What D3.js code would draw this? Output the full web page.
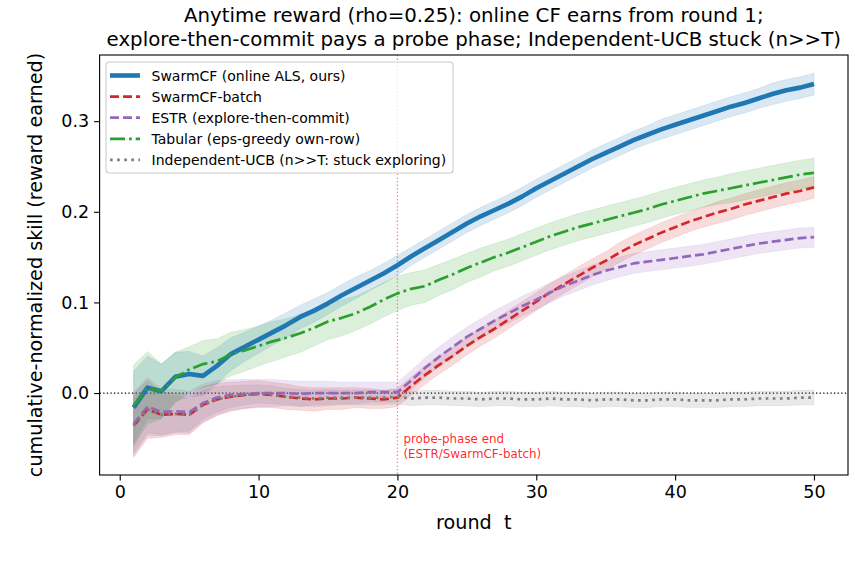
<!DOCTYPE html>
<html>
<head>
<meta charset="utf-8">
<script src="https://cdn.jsdelivr.net/npm/d3@7"></script>
<style>
  html, body { margin: 0; padding: 0; background: #fff; }
  svg { display: block; font-family: "DejaVu Sans", sans-serif; }
</style>
</head>
<body>
<svg id="chart" width="855" height="566"></svg>
<script>
// ---------------- data ----------------
const rounds = d3.range(1, 51);

const swarmCF = [-0.016, 0.006, 0.002, 0.018, 0.021, 0.019, 0.030, 0.043, 0.051, 0.059,
  0.067, 0.075, 0.084, 0.091, 0.099, 0.108, 0.116, 0.124, 0.132, 0.141,
  0.151, 0.160, 0.169, 0.178, 0.187, 0.195, 0.202, 0.209, 0.217, 0.226,
  0.234, 0.242, 0.250, 0.258, 0.265, 0.272, 0.279, 0.285, 0.291, 0.296,
  0.301, 0.306, 0.311, 0.316, 0.320, 0.325, 0.330, 0.334, 0.337, 0.341];
const swarmCFBand = [0.040, 0.035, 0.030, 0.027, 0.025, 0.022, 0.020, 0.018, 0.016, 0.015,
  0.014, 0.014, 0.013, 0.013, 0.012, 0.012, 0.012, 0.011, 0.011, 0.011,
  0.010, 0.010, 0.010, 0.010, 0.010, 0.010, 0.010, 0.010, 0.010, 0.010,
  0.010, 0.010, 0.010, 0.010, 0.010, 0.010, 0.010, 0.010, 0.011, 0.011,
  0.011, 0.011, 0.011, 0.011, 0.011, 0.011, 0.012, 0.012, 0.012, 0.012];

const swarmBatch = [-0.036, -0.018, -0.024, -0.023, -0.024, -0.013, -0.007, -0.004, -0.002, -0.001,
  -0.002, -0.004, -0.006, -0.007, -0.006, -0.006, -0.005, -0.006, -0.007, -0.005,
  0.008, 0.020, 0.031, 0.041, 0.052, 0.062, 0.071, 0.081, 0.091, 0.101,
  0.111, 0.120, 0.129, 0.138, 0.146, 0.155, 0.163, 0.170, 0.177, 0.183,
  0.189, 0.194, 0.199, 0.203, 0.208, 0.212, 0.216, 0.220, 0.223, 0.227];
const swarmBatchBand = [0.035, 0.032, 0.025, 0.023, 0.022, 0.020, 0.018, 0.016, 0.015, 0.015,
  0.014, 0.014, 0.013, 0.013, 0.012, 0.012, 0.011, 0.011, 0.010, 0.010,
  0.010, 0.010, 0.010, 0.010, 0.010, 0.010, 0.010, 0.010, 0.010, 0.010,
  0.010, 0.010, 0.010, 0.010, 0.010, 0.011, 0.011, 0.011, 0.011, 0.011,
  0.011, 0.011, 0.012, 0.012, 0.012, 0.012, 0.012, 0.012, 0.012, 0.012];

const estr = [-0.034, -0.015, -0.021, -0.020, -0.021, -0.011, -0.005, -0.002, -0.001, 0.000,
  0.000, 0.000, -0.001, 0.000, 0.000, 0.000, 0.000, 0.001, 0.001, 0.001,
  0.014, 0.028, 0.040, 0.051, 0.062, 0.071, 0.080, 0.088, 0.096, 0.103,
  0.111, 0.118, 0.124, 0.130, 0.135, 0.139, 0.143, 0.145, 0.147, 0.149,
  0.151, 0.153, 0.156, 0.159, 0.162, 0.165, 0.167, 0.169, 0.171, 0.172];
const estrBand = [0.035, 0.032, 0.026, 0.024, 0.023, 0.021, 0.019, 0.017, 0.016, 0.015,
  0.015, 0.014, 0.014, 0.013, 0.013, 0.012, 0.012, 0.011, 0.011, 0.011,
  0.011, 0.011, 0.011, 0.011, 0.011, 0.011, 0.011, 0.011, 0.011, 0.011,
  0.011, 0.011, 0.011, 0.011, 0.011, 0.011, 0.011, 0.011, 0.011, 0.011,
  0.011, 0.011, 0.011, 0.011, 0.011, 0.011, 0.011, 0.011, 0.011, 0.011];

const tabular = [-0.014, 0.006, 0.002, 0.017, 0.026, 0.032, 0.035, 0.043, 0.047, 0.052,
  0.057, 0.061, 0.066, 0.072, 0.079, 0.083, 0.088, 0.095, 0.103, 0.110,
  0.115, 0.118, 0.125, 0.131, 0.138, 0.144, 0.150, 0.155, 0.161, 0.167,
  0.173, 0.178, 0.183, 0.187, 0.191, 0.195, 0.199, 0.203, 0.208, 0.212,
  0.216, 0.220, 0.223, 0.226, 0.229, 0.232, 0.235, 0.238, 0.241, 0.243];
const tabularBand = [0.045, 0.040, 0.030, 0.028, 0.025, 0.026, 0.025, 0.024, 0.023, 0.022,
  0.022, 0.021, 0.021, 0.020, 0.020, 0.020, 0.019, 0.019, 0.019, 0.019,
  0.018, 0.018, 0.017, 0.017, 0.016, 0.016, 0.015, 0.015, 0.015, 0.015,
  0.015, 0.015, 0.015, 0.015, 0.015, 0.015, 0.015, 0.015, 0.015, 0.015,
  0.015, 0.015, 0.015, 0.016, 0.016, 0.016, 0.016, 0.016, 0.016, 0.016];

const indepUCB = [-0.036, -0.018, -0.024, -0.023, -0.024, -0.013, -0.007, -0.004, -0.002, -0.001,
  -0.002, -0.004, -0.005, -0.006, -0.005, -0.005, -0.005, -0.005, -0.005, -0.004,
  -0.006, -0.005, -0.005, -0.006, -0.006, -0.007, -0.006, -0.006, -0.007, -0.007,
  -0.006, -0.007, -0.007, -0.008, -0.007, -0.007, -0.008, -0.008, -0.007, -0.007,
  -0.008, -0.008, -0.008, -0.007, -0.007, -0.006, -0.006, -0.006, -0.005, -0.005];
const indepUCBBand = [0.030, 0.026, 0.022, 0.020, 0.018, 0.016, 0.014, 0.012, 0.011, 0.010,
  0.010, 0.009, 0.009, 0.009, 0.009, 0.008, 0.008, 0.008, 0.008, 0.008,
  0.008, 0.008, 0.008, 0.008, 0.008, 0.008, 0.008, 0.008, 0.008, 0.008,
  0.008, 0.008, 0.008, 0.008, 0.008, 0.008, 0.008, 0.008, 0.008, 0.008,
  0.008, 0.008, 0.008, 0.008, 0.008, 0.008, 0.008, 0.008, 0.008, 0.008];

const xTicks = [0, 10, 20, 30, 40, 50];
const yTicks = [0.0, 0.1, 0.2, 0.3];
const probeEnd = 20;

const titleLines = [
  "Anytime reward (rho=0.25): online CF earns from round 1;",
  "explore-then-commit pays a probe phase; Independent-UCB stuck (n>>T)"
];
const xLabel = "round  t";
const yLabel = "cumulative-normalized skill (reward earned)";
const probeLabel = ["probe-phase end", "(ESTR/SwarmCF-batch)"];

const series = [
  {name: "SwarmCF (online ALS, ours)", values: swarmCF, band: swarmCFBand, color: "#1f77b4", width: 4.6, dash: null},
  {name: "SwarmCF-batch", values: swarmBatch, band: swarmBatchBand, color: "#d62728", width: 2.7, dash: "9,4"},
  {name: "ESTR (explore-then-commit)", values: estr, band: estrBand, color: "#9467bd", width: 2.7, dash: "9,4"},
  {name: "Tabular (eps-greedy own-row)", values: tabular, band: tabularBand, color: "#2ca02c", width: 2.7, dash: "15,4,2.7,4"},
  {name: "Independent-UCB (n>>T: stuck exploring)", values: indepUCB, band: indepUCBBand, color: "#7f7f7f", width: 2.7, dash: "2.7,4.4"}
];

// ---------------- layout ----------------
const svg = d3.select("#chart");
const L = 99.6, R = 848, T = 55, B = 475;
const x = d3.scaleLinear().domain([-1.45, 52.45]).range([L, R]);
const y = d3.scaleLinear().domain([-0.0904, 0.373]).range([B, T]);

svg.append("rect").attr("width", 855).attr("height", 566).attr("fill", "#fff");

const clip = svg.append("defs").append("clipPath").attr("id", "plotclip");
clip.append("rect").attr("x", L).attr("y", T).attr("width", R - L).attr("height", B - T);

const plot = svg.append("g").attr("clip-path", "url(#plotclip)");

// zero reference line
plot.append("line")
  .attr("x1", L).attr("x2", R).attr("y1", y(0)).attr("y2", y(0))
  .attr("stroke", "#000").attr("stroke-width", 1.3).attr("stroke-dasharray", "1.3,2.3");

// probe-phase vertical line
plot.append("line")
  .attr("x1", x(probeEnd)).attr("x2", x(probeEnd)).attr("y1", T).attr("y2", B)
  .attr("stroke", "red").attr("stroke-opacity", 0.5).attr("stroke-width", 1.3)
  .attr("stroke-dasharray", "1.3,2.3");

// bands + lines
const area = d3.area().x((d, i) => x(rounds[i])).y0(d => y(d[0])).y1(d => y(d[1]));
const line = d3.line().x((d, i) => x(rounds[i])).y(d => y(d));

series.forEach(s => {
  const bandData = s.values.map((v, i) => [v - s.band[i], v + s.band[i]]);
  plot.append("path").datum(bandData).attr("d", area)
    .attr("fill", s.color).attr("fill-opacity", 0.17).attr("stroke", s.color)
    .attr("stroke-opacity", 0.1).attr("stroke-width", 1);
});
series.forEach(s => {
  const p = plot.append("path").datum(s.values).attr("d", line)
    .attr("fill", "none").attr("stroke", s.color).attr("stroke-width", s.width)
    .attr("stroke-linejoin", "round");
  if (s.dash) p.attr("stroke-dasharray", s.dash);
});

// probe annotation
const ann = svg.append("text").attr("fill", "red").attr("fill-opacity", 0.85)
  .attr("font-size", 11.9);
probeLabel.forEach((t, i) => {
  ann.append("tspan").attr("x", x(probeEnd) + 6).attr("y", 443 + i * 15).text(t);
});

// axes
const xAxis = d3.axisBottom(x).tickValues(xTicks).tickFormat(d3.format("d")).tickSize(5.5).tickPadding(5);
const yAxis = d3.axisLeft(y).tickValues(yTicks).tickFormat(d3.format(".1f")).tickSize(5.5).tickPadding(5);

const gx = svg.append("g").attr("transform", `translate(0,${B})`).call(xAxis);
const gy = svg.append("g").attr("transform", `translate(${L},0)`).call(yAxis);
[gx, gy].forEach(g => {
  g.select(".domain").remove();
  g.selectAll(".tick line").attr("stroke", "#000").attr("stroke-width", 1.1);
  g.selectAll(".tick text").attr("fill", "#000").attr("font-size", 17.5)
    .attr("font-family", "DejaVu Sans, sans-serif");
});

// frame
svg.append("rect").attr("x", L).attr("y", T).attr("width", R - L).attr("height", B - T)
  .attr("fill", "none").attr("stroke", "#000").attr("stroke-width", 1.1);

// labels
svg.append("text").attr("x", (L + R) / 2).attr("y", 529).attr("text-anchor", "middle")
  .attr("font-size", 19.2).attr("fill", "#000").style("white-space", "pre").text(xLabel);
svg.append("text").attr("transform", `translate(42,${(T + B) / 2}) rotate(-90)`)
  .attr("text-anchor", "middle").attr("font-size", 19.2).attr("fill", "#000").text(yLabel);

titleLines.forEach((t, i) => {
  svg.append("text").attr("x", (L + R) / 2).attr("y", 22 + i * 23.5).attr("text-anchor", "middle")
    .attr("font-size", 19.8).attr("fill", "#000").text(t);
});

// legend
const lg = svg.append("g");
lg.append("rect").attr("x", 106).attr("y", 62).attr("width", 347).attr("height", 111)
  .attr("rx", 3).attr("fill", "#fff").attr("fill-opacity", 0.8)
  .attr("stroke", "#ccc").attr("stroke-width", 1.1);
series.forEach((s, i) => {
  const cy = 75.5 + i * 21.1;
  const l = lg.append("line").attr("x1", 110).attr("x2", 140).attr("y1", cy).attr("y2", cy)
    .attr("stroke", s.color).attr("stroke-width", s.width);
  if (s.dash) l.attr("stroke-dasharray", s.dash);
  lg.append("text").attr("x", 151.5).attr("y", cy + 5).attr("font-size", 14)
    .attr("fill", "#000").text(s.name);
});
</script>
</body>
</html>
